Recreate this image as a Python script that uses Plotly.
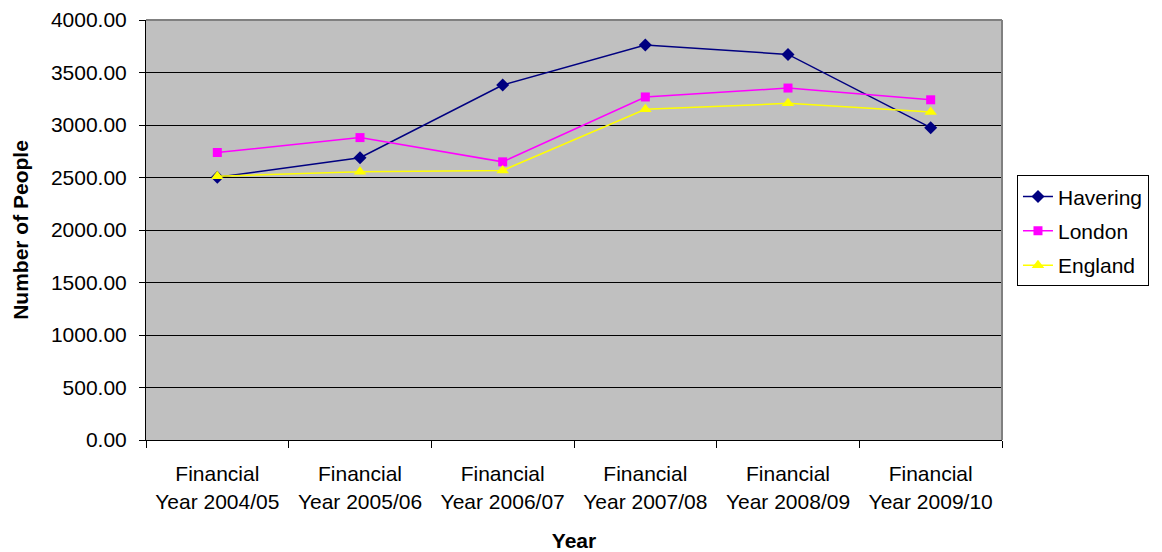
import plotly.graph_objects as go

years = ["Financial<br>Year 2004/05", "Financial<br>Year 2005/06", "Financial<br>Year 2006/07",
         "Financial<br>Year 2007/08", "Financial<br>Year 2008/09", "Financial<br>Year 2009/10"]
havering = [2502, 2688, 3381, 3762, 3672, 2975]
london = [2738, 2880, 2649, 3267, 3352, 3240]
england = [2512, 2554, 2567, 3149, 3206, 3124]

fig = go.Figure()
fig.add_trace(go.Scatter(x=years, y=havering, name="Havering", mode="lines+markers",
                         legendgroup="a",
                         line=dict(color="#000080", width=1.5),
                         marker=dict(symbol="diamond", size=10, color="#000080")))
fig.add_trace(go.Scatter(x=years, y=london, name="London", mode="lines+markers",
                         legendgroup="b",
                         line=dict(color="#FF00FF", width=1.5),
                         marker=dict(symbol="square", size=9, color="#FF00FF")))
fig.add_trace(go.Scatter(x=years, y=england, name="England", mode="lines+markers",
                         legendgroup="c",
                         line=dict(color="#FFFF00", width=1.5),
                         marker=dict(symbol="triangle-up", size=11, color="#FFFF00")))

font_family = "Liberation Sans, Arial, sans-serif"
fig.update_layout(
    width=1154, height=544,
    margin=dict(l=138, r=160, t=12, b=112),
    paper_bgcolor="white", plot_bgcolor="#C0C0C0",
    font=dict(family=font_family, size=21, color="black"),
    showlegend=True,
    legend=dict(x=1.0175, y=0.63, xanchor="left", yanchor="top",
                bgcolor="white", bordercolor="black", borderwidth=1,
                font=dict(size=21), tracegroupgap=4, itemwidth=30),
    xaxis=dict(
        type="category", range=[-0.5, 5.5], automargin=False,
        showgrid=False, showline=True, linecolor="black", linewidth=1,
        ticks="outside", tickson="boundaries", ticklen=7, tickcolor="black",
        tickfont=dict(size=21), ticklabelstandoff=15, ticklabeloverflow="allow",
        title=dict(text="<b>Year</b>", font=dict(size=21), standoff=23),
        mirror=False,
    ),
    yaxis=dict(
        range=[0, 4000], dtick=500, tickformat=".2f", automargin=False,
        showgrid=True, gridcolor="black", gridwidth=1,
        showline=True, linecolor="black", linewidth=1,
        ticks="outside", ticklen=6, tickcolor="black",
        tickfont=dict(size=21), ticklabelstandoff=8, ticklabeloverflow="allow",
        title=dict(text="<b>Number of People</b>", font=dict(size=21), standoff=16),
        zeroline=False,
    ),
)
# grey border top/right of plot area
fig.add_shape(type="line", xref="paper", yref="paper", x0=0, x1=1, y0=1, y1=1,
              line=dict(color="#808080", width=2))
fig.add_shape(type="line", xref="paper", yref="paper", x0=1, x1=1, y0=0, y1=1,
              line=dict(color="#808080", width=2))

fig.write_html("out.html")
